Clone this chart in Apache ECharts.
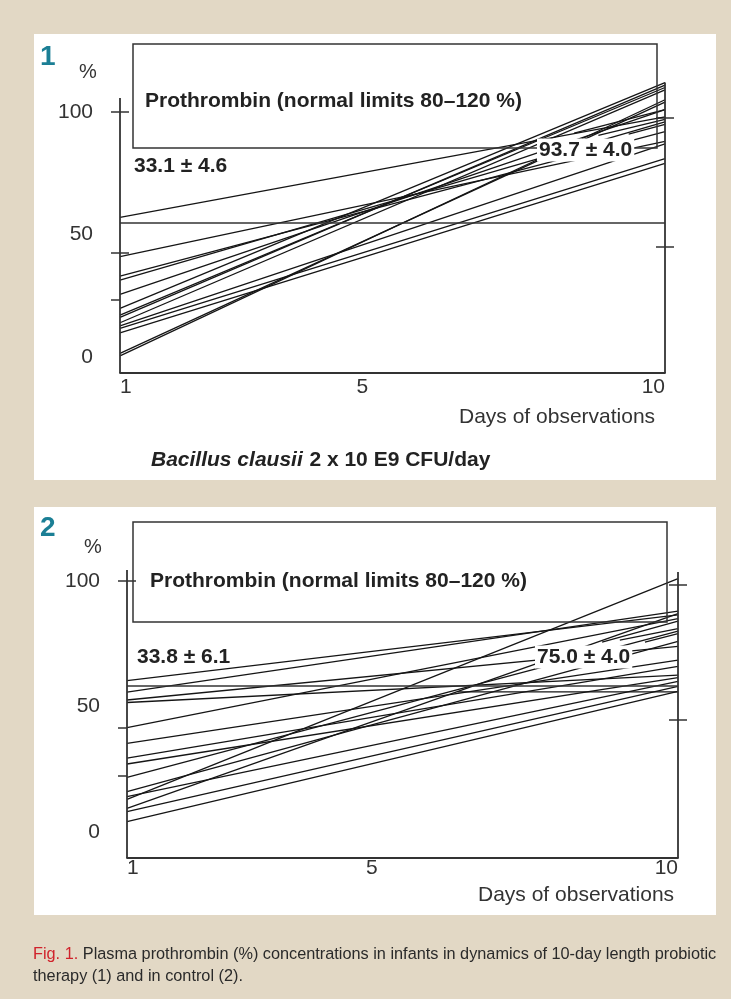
<!DOCTYPE html>
<html>
<head>
<meta charset="utf-8">
<title>Plasma prothrombin</title>
<script src="https://cdn.jsdelivr.net/npm/echarts@6/dist/echarts.min.js"></script>
<style>
  html, body { margin: 0; padding: 0; background: #e2d8c5; }
  #chart { width: 731px; height: 999px; }
</style>
</head>
<body>
<div id="chart"></div>
<script>
// prothrombin %, day 1 -> day 10, one value per infant
const dayFirst = 1
const dayLast = 10
const xLabels = [1, 5, 10]
const yLabels = [0, 50, 100]

// panel 1: Bacillus clausii
const p1Start = [57, 41, 33, 31.4, 25.6, 19.9, 17.1, 16.2, 14, 12.7, 11.7, 9.9, 1.5, 0.5]
const p1End = [98, 88, 92, 96, 101, 112, 110, 111, 109, 87, 81, 79, 104, 105]
// short pieces near day 10
const p1PartFrom = [8.5, 8.9, 9.4]
const p1PartStart = [91.4, 90.5, 91]
const p1PartEnd = [101, 97, 95]
const p1Ref = 54.7

// panel 2: control
const p2Start = [60.3, 55.7, 52.6, 51.6, 41.6, 35.3, 29.4, 27.1, 21.8, 16.1, 14.1, 13.0, 9.4, 8.1, 4.1]
const p2End = [86.5, 88, 74, 62.5, 85, 68.5, 66, 61.5, 80, 76, 60, 101, 87, 58, 56]
const p2PartFrom = [8.76, 9.05, 9.46, 6.4]
const p2PartStart = [75.7, 76.5, 75.7, 55.8]
const p2PartEnd = [84, 81, 79, 55.8]
const p2Ref = 58.2

// axis ticks (cross = both sides of the axis, out = outside only)
const p1LeftCross = [100, 42.4]
const p1LeftOut = [23.3]
const p1RightCross = [97.6, 44.9]
const p2LeftCross = [100]
const p2LeftOut = [41.4, 22.3]
const p2RightCross = [98.4, 44.6]

const FONT = 'Liberation Sans, Arial, Helvetica, sans-serif'
const INK = '#222'
const TEAL = '#1b7f95'

const chart = echarts.init(document.getElementById('chart'))

const panels = [
  { grid: { left: 120, right: 66, top: 82.6, bottom: 626 }, yMin: -6.5, yMax: 112, leftTop: 105.7, rightTop: 112,
    start: p1Start, end: p1End, partFrom: p1PartFrom, partStart: p1PartStart, partEnd: p1PartEnd, ref: p1Ref,
    leftCross: p1LeftCross, leftOut: p1LeftOut, rightCross: p1RightCross, xMargin: 4 },
  { grid: { left: 127, right: 53, top: 570, bottom: 141 }, yMin: -10.36, yMax: 104.4, leftTop: 104.4, rightTop: 103.6,
    start: p2Start, end: p2End, partFrom: p2PartFrom, partStart: p2PartStart, partEnd: p2PartEnd, ref: p2Ref,
    leftCross: p2LeftCross, leftOut: p2LeftOut, rightCross: p2RightCross, xMargin: 0 }
]

const grids = []
const xAxes = []
const yAxes = []
const series = []

const tickStyle = { color: '#333', width: 1.5 }

panels.forEach((p, g) => {
  grids.push(p.grid)
  xAxes.push({
    gridIndex: g, type: 'value', min: dayFirst, max: dayLast,
    axisLine: { show: true, onZero: false, lineStyle: { color: '#333', width: 1.8 } },
    axisTick: { show: false },
    splitLine: { show: false },
    axisLabel: {
      customValues: xLabels, margin: p.xMargin, color: '#333', fontFamily: FONT, fontSize: 21,
      alignMinLabel: 'left', alignMaxLabel: 'right'
    }
  })
  const base = { gridIndex: g, type: 'value', min: p.yMin, max: p.yMax, axisLine: { show: false }, splitLine: { show: false } }
  yAxes.push(Object.assign({}, base, {
    position: 'left',
    axisTick: { show: true, customValues: p.leftCross.concat(p.leftOut), length: 9, lineStyle: tickStyle },
    axisLabel: { customValues: yLabels, margin: 27, color: '#333', fontFamily: FONT, fontSize: 21 }
  }))
  yAxes.push(Object.assign({}, base, {
    position: 'left',
    axisTick: { show: true, inside: true, customValues: p.leftCross, length: 9, lineStyle: tickStyle },
    axisLabel: { show: false }
  }))
  yAxes.push(Object.assign({}, base, {
    position: 'right',
    axisTick: { show: true, customValues: p.rightCross, length: 9, lineStyle: tickStyle },
    axisLabel: { show: false }
  }))
  yAxes.push(Object.assign({}, base, {
    position: 'right',
    axisTick: { show: true, inside: true, customValues: p.rightCross, length: 9, lineStyle: tickStyle },
    axisLabel: { show: false }
  }))

  const lineStyle = { color: '#151515', width: 1.3 }
  p.start.forEach((s, i) => {
    series.push({
      type: 'line', xAxisIndex: g, yAxisIndex: g * 4, symbol: 'none', silent: true,
      lineStyle, data: [[dayFirst, s], [dayLast, p.end[i]]]
    })
  })
  p.partStart.forEach((s, i) => {
    series.push({
      type: 'line', xAxisIndex: g, yAxisIndex: g * 4, symbol: 'none', silent: true,
      lineStyle, data: [[p.partFrom[i], s], [dayLast, p.partEnd[i]]]
    })
  })
  // horizontal reference line, also carries the two vertical axis lines
  series.push({
    type: 'line', xAxisIndex: g, yAxisIndex: g * 4, symbol: 'none', silent: true,
    lineStyle: { color: '#333', width: 1.4 },
    data: [[dayFirst, p.ref], [dayLast, p.ref]],
    markLine: {
      silent: true, symbol: ['none', 'none'], label: { show: false },
      lineStyle: { color: '#333', width: 1.8, type: 'solid' },
      data: [
        [{ coord: [dayFirst, p.yMin] }, { coord: [dayFirst, p.leftTop] }],
        [{ coord: [dayLast, p.yMin] }, { coord: [dayLast, p.rightTop] }]
      ]
    }
  })
})

function txt(x, y, text, font, fill, extra) {
  return {
    type: 'text', x, y, z: 20,
    style: Object.assign({
      text, font, fill: fill || INK,
      textAlign: 'left', textVerticalAlign: 'middle', align: 'left', verticalAlign: 'middle'
    }, extra || {})
  }
}

const boxStyle = { fill: 'none', stroke: '#333', lineWidth: 1.5 }
const titleText = 'Prothrombin (normal limits 80\u2013120 %)'
const CAP = '16.3px ' + FONT

const graphic = [
  { type: 'rect', z: -1, shape: { x: 34, y: 34, width: 682, height: 446 }, style: { fill: '#fff' } },
  { type: 'rect', z: -1, shape: { x: 34, y: 507, width: 682, height: 408 }, style: { fill: '#fff' } },
  // panel 1
  txt(40, 57, '1', 'bold 28px ' + FONT, TEAL),
  txt(79, 72, '%', '20px ' + FONT, '#333'),
  { type: 'rect', z: 5, shape: { x: 133, y: 44, width: 524, height: 104 }, style: boxStyle },
  txt(145, 101, titleText, 'bold 21px ' + FONT),
  txt(134, 166, '33.1 \u00b1 4.6', 'bold 21px ' + FONT),
  txt(537, 150, '93.7 \u00b1 4.0', 'bold 21px ' + FONT, INK, { backgroundColor: '#fff', padding: [1, 2] }),
  txt(459, 417, 'Days of observations', '21px ' + FONT, '#333'),
  {
    type: 'text', x: 151, y: 460, z: 20,
    style: {
      text: '{bi|Bacillus clausii}  {b|2 x 10 E9 CFU/day}',
      textVerticalAlign: 'middle', verticalAlign: 'middle',
      rich: {
        bi: { font: 'italic bold 21px ' + FONT, fill: INK, color: INK },
        b: { font: 'bold 21px ' + FONT, fill: INK, color: INK }
      }
    }
  },
  // panel 2
  txt(40, 528, '2', 'bold 28px ' + FONT, TEAL),
  txt(84, 547, '%', '20px ' + FONT, '#333'),
  { type: 'rect', z: 5, shape: { x: 133, y: 522, width: 534, height: 100 }, style: boxStyle },
  txt(150, 581, titleText, 'bold 21px ' + FONT),
  txt(137, 657, '33.8 \u00b1 6.1', 'bold 21px ' + FONT),
  txt(535, 657, '75.0 \u00b1 4.0', 'bold 21px ' + FONT, INK, { backgroundColor: '#fff', padding: [1, 2] }),
  txt(478, 895, 'Days of observations', '21px ' + FONT, '#333'),
  // caption
  {
    type: 'text', x: 33, y: 955, z: 20,
    style: {
      text: '{r|Fig. 1.} Plasma prothrombin (%) concentrations in infants in dynamics of 10-day length probiotic',
      textVerticalAlign: 'middle', verticalAlign: 'middle',
      font: CAP, fill: '#2a2a2a',
      rich: { r: { font: CAP, fill: '#d0222b', color: '#d0222b' } }
    }
  },
  txt(33, 977, 'therapy (1) and in control (2).', CAP, '#2a2a2a')
]

chart.setOption({
  animation: false,
  backgroundColor: '#e2d8c5',
  grid: grids,
  xAxis: xAxes,
  yAxis: yAxes,
  series,
  graphic
})
</script>
</body>
</html>
